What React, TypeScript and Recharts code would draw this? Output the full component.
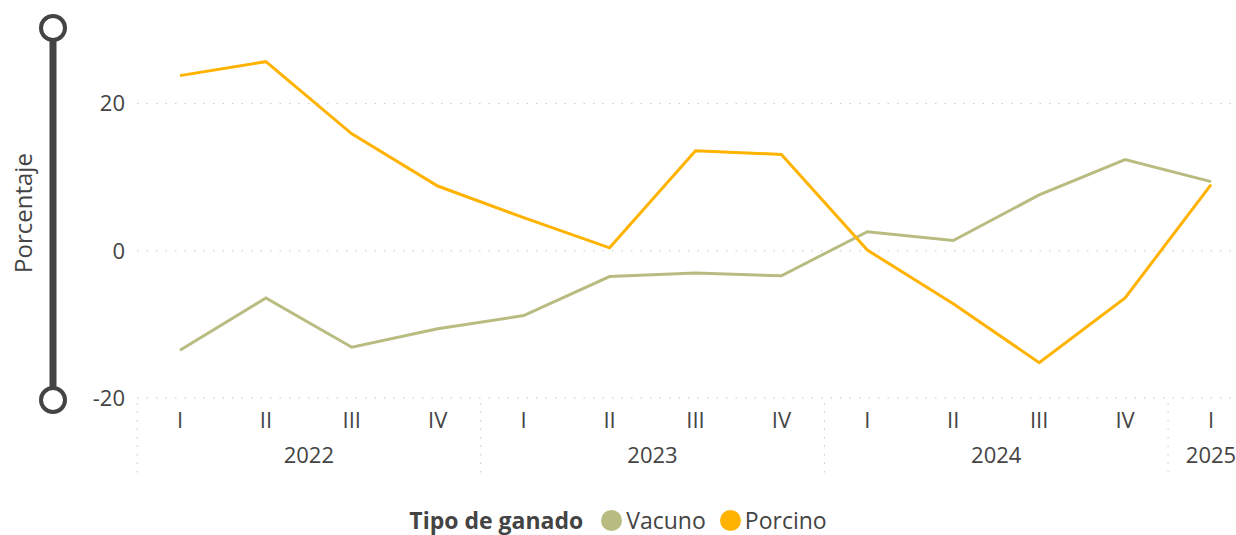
import { CartesianGrid, Line, LineChart, XAxis, YAxis } from "recharts"

const years = ["2022", "2022", "2022", "2022", "2023", "2023", "2023", "2023", "2024", "2024", "2024", "2024", "2025"]
const quarters = ["I", "II", "III", "IV", "I", "II", "III", "IV", "I", "II", "III", "IV", "I"]
const vacuno = [-13.5, -6.4, -13.1, -10.6, -8.8, -3.5, -3.0, -3.4, 2.6, 1.4, 7.6, 12.4, 9.4]
const porcino = [23.8, 25.7, 15.9, 8.8, 4.5, 0.4, 13.6, 13.1, 0.1, -7.2, -15.2, -6.4, 9.0]
const yTicks = [-20, 0, 20]

const data = quarters.map((q, i) => ({
  key: `${years[i]}-${q}`,
  q,
  year: years[i],
  vacuno: vacuno[i],
  porcino: porcino[i],
}))

const FONT = "'Segoe UI', 'Open Sans', sans-serif"
const TEXT = "#444444"
const VACUNO = "#B9BC80"
const PORCINO = "#FFB300"

const PLOT_LEFT = 137
const CHART_W = 1256
const PLOT_W = CHART_W - 2 - PLOT_LEFT
const BAND = PLOT_W / data.length

function QuarterTick({ x, y, index }: any) {
  const row = data[index]
  if (!row) return null
  return (
    <text x={x} y={y + 22} textAnchor="middle" fill={TEXT} fontSize={22} fontFamily={FONT}>
      {row.q}
    </text>
  )
}

function YearTick({ x, y, index }: any) {
  const row = data[index]
  if (!row || (index > 0 && data[index - 1].year === row.year)) return null
  const size = years.filter((yr) => yr === row.year).length
  const sep = x - BAND / 2
  return (
    <g>
      <line x1={sep} x2={sep} y1={y - 41} y2={y + 34} stroke="#c8c8c8" strokeDasharray="1.5 7" />
      <text
        x={x + ((size - 1) / 2) * BAND}
        y={y + 19}
        textAnchor="middle"
        fill={TEXT}
        fontSize={22}
        fontFamily={FONT}
      >
        {row.year}
      </text>
    </g>
  )
}

export default function App() {
  return (
    <div
      style={{
        position: "absolute",
        left: 0,
        top: 0,
        width: 1236,
        height: 535,
        overflow: "hidden",
        background: "#fff",
        fontFamily: FONT,
      }}
    >
      <LineChart
        width={CHART_W}
        height={481}
        data={data}
        margin={{ top: 30, right: 2, left: 0, bottom: 0 }}
      >
        <CartesianGrid
          vertical={false}
          horizontalValues={yTicks}
          stroke="#c8c8c8"
          strokeDasharray="1.5 8"
        />
        <YAxis
          domain={[-20, 30]}
          ticks={yTicks}
          width={PLOT_LEFT}
          axisLine={false}
          tickLine={false}
          tickMargin={6}
          tick={{ fill: TEXT, fontSize: 22, fontFamily: FONT }}
        />
        <XAxis
          xAxisId="q"
          dataKey="key"
          height={38}
          interval={0}
          padding={{ left: BAND / 2, right: BAND / 2 }}
          axisLine={false}
          tickLine={false}
          tick={<QuarterTick />}
        />
        <XAxis
          xAxisId="year"
          dataKey="key"
          height={45}
          interval={0}
          padding={{ left: BAND / 2, right: BAND / 2 }}
          axisLine={false}
          tickLine={false}
          tick={<YearTick />}
        />
        <Line
          xAxisId="q"
          dataKey="vacuno"
          name="Vacuno"
          stroke={VACUNO}
          strokeWidth={3}
          dot={false}
          isAnimationActive={false}
        />
        <Line
          xAxisId="q"
          dataKey="porcino"
          name="Porcino"
          stroke={PORCINO}
          strokeWidth={3}
          dot={false}
          isAnimationActive={false}
        />
      </LineChart>

      <svg width={120} height={420} style={{ position: "absolute", left: 0, top: 0 }}>
        <line x1={53} x2={53} y1={28} y2={400} stroke="#444" strokeWidth={7} />
        <circle cx={53} cy={28} r={12} fill="#fff" stroke="#444" strokeWidth={4} />
        <circle cx={53} cy={400} r={12} fill="#fff" stroke="#444" strokeWidth={4} />
        <text
          transform="translate(32,213) rotate(-90)"
          textAnchor="middle"
          fill={TEXT}
          fontSize={24}
          fontFamily={FONT}
        >
          Porcentaje
        </text>
      </svg>

      <div
        style={{
          position: "absolute",
          left: 0,
          width: 1236,
          top: 505,
          height: 30,
          lineHeight: "30px",
          display: "flex",
          justifyContent: "center",
          alignItems: "center",
          gap: 4,
          fontSize: 23,
          color: TEXT,
        }}
      >
        <span style={{ fontWeight: 700, marginRight: 14 }}>Tipo de ganado</span>
        <span style={{ width: 21, height: 21, borderRadius: 11, background: VACUNO }} />
        <span style={{ marginRight: 10 }}>Vacuno</span>
        <span style={{ width: 21, height: 21, borderRadius: 11, background: PORCINO }} />
        <span>Porcino</span>
      </div>
    </div>
  )
}
